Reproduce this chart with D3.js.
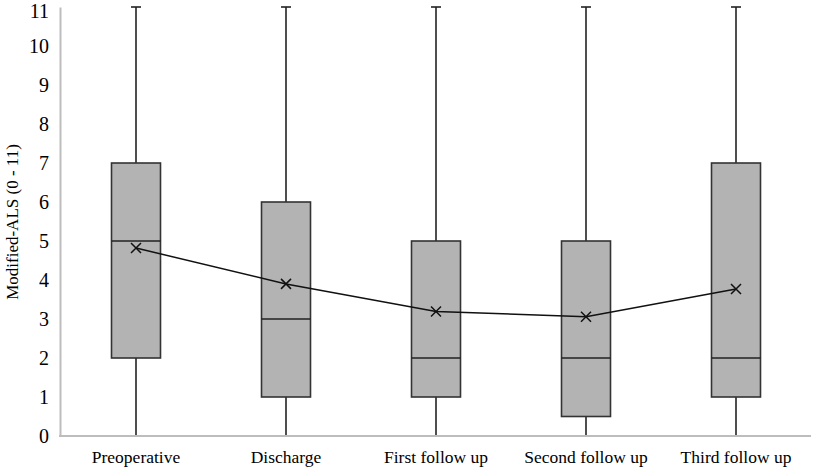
<!DOCTYPE html>
<html>
<head>
<meta charset="utf-8">
<script src="https://cdn.jsdelivr.net/npm/d3@7"></script>
<style>
  body { margin: 0; background: #fff; }
  svg text { font-family: "Liberation Serif", "Times New Roman", Times, "DejaVu Serif", serif; fill: #000; }
</style>
</head>
<body>
<svg width="813" height="470"></svg>
<script>
// data
let categories = ["Preoperative", "Discharge", "First follow up", "Second follow up", "Third follow up"];
let whiskerMin = [0, 0, 0, 0, 0];
let whiskerMax = [11, 11, 11, 11, 11];
let q1 = [2, 1, 1, 0.5, 1];
let q3 = [7, 6, 5, 5, 7];
let medians = [5, 3, 2, 2, 2];
let means = [4.82, 3.9, 3.19, 3.06, 3.77];
let yTicks = [0, 1, 2, 3, 4, 5, 6, 7, 8, 9, 10, 11];

const width = 813;
const height = 470;
const serif = '"Liberation Serif", "Times New Roman", Times, "DejaVu Serif", serif';
let svg = d3.select("svg").attr("width", width).attr("height", height);

let plotLeft = 61;
let plotRight = 811;
let plotTop = 7;
let plotBottom = 436;

let scaleX = d3.scaleBand().domain(categories).range([plotLeft, plotRight]);
let scaleY = d3.scaleLinear().domain([0, 11]).range([plotBottom, plotTop]);

let boxes = categories.map((c, i) => ({
    name: c,
    lo: whiskerMin[i],
    hi: whiskerMax[i],
    q1: q1[i],
    q3: q3[i],
    med: medians[i],
    mean: means[i],
}));

let cx = (d) => scaleX(d.name) + scaleX.bandwidth() / 2;
const boxW = 49;

// whiskers
svg.selectAll(".whisker")
    .data(boxes)
    .enter()
    .append("line")
    .attr("x1", cx)
    .attr("x2", cx)
    .attr("y1", (d) => scaleY(d.lo))
    .attr("y2", (d) => scaleY(d.hi))
    .attr("stroke", "#222")
    .attr("stroke-width", 1.6);

// caps at top
svg.selectAll(".cap")
    .data(boxes)
    .enter()
    .append("line")
    .attr("x1", (d) => cx(d) - 5)
    .attr("x2", (d) => cx(d) + 5)
    .attr("y1", (d) => scaleY(d.hi))
    .attr("y2", (d) => scaleY(d.hi))
    .attr("stroke", "#222")
    .attr("stroke-width", 1.6);

// boxes
svg.selectAll(".box")
    .data(boxes)
    .enter()
    .append("rect")
    .attr("x", (d) => cx(d) - boxW / 2)
    .attr("y", (d) => scaleY(d.q3))
    .attr("width", boxW)
    .attr("height", (d) => scaleY(d.q1) - scaleY(d.q3))
    .attr("fill", "#b3b3b3")
    .attr("stroke", "#333")
    .attr("stroke-width", 1.6);

// medians
svg.selectAll(".median")
    .data(boxes)
    .enter()
    .append("line")
    .attr("x1", (d) => cx(d) - boxW / 2)
    .attr("x2", (d) => cx(d) + boxW / 2)
    .attr("y1", (d) => scaleY(d.med))
    .attr("y2", (d) => scaleY(d.med))
    .attr("stroke", "#222")
    .attr("stroke-width", 1.6);

// y axis (no ticks, gray line)
let axisY = d3.axisLeft(scaleY).tickValues(yTicks).tickSize(0).tickPadding(11);
let gy = svg.append("g").attr("transform", `translate(${plotLeft - 1}, 0)`).call(axisY);
gy.attr("font-family", serif).attr("font-size", 20);
gy.select(".domain").attr("stroke", "#bdbdbd").attr("stroke-width", 2);
// top label sits at the very edge, nudge it in so it is not clipped
gy.selectAll("text").attr("dy", "0.34em").attr("y", (d) => (d == 11 ? 4 : 0));

// x axis
let axisX = d3.axisBottom(scaleX).tickSize(0).tickPadding(15);
let gx = svg.append("g").attr("transform", `translate(0, ${plotBottom})`).call(axisX);
gx.attr("font-family", serif).attr("font-size", 17.5);
gx.select(".domain").attr("d", `M${plotLeft - 2},0H${plotRight}`).attr("stroke", "#bdbdbd").attr("stroke-width", 2);

// mean line
let line = d3.line().x(cx).y((d) => scaleY(d.mean));
svg.append("path")
    .datum(boxes)
    .attr("d", line)
    .attr("fill", "none")
    .attr("stroke", "#111")
    .attr("stroke-width", 1.5);

// mean markers (x)
const m = 5;
svg.selectAll(".meanx")
    .data(boxes)
    .enter()
    .append("path")
    .attr("d", (d) => {
        let x = cx(d), y = scaleY(d.mean);
        return `M${x - m},${y - m}L${x + m},${y + m}M${x - m},${y + m}L${x + m},${y - m}`;
    })
    .attr("stroke", "#111")
    .attr("stroke-width", 1.5);

// y label
svg.append("text")
    .attr("transform", `translate(18, 222) rotate(-90)`)
    .attr("text-anchor", "middle")
    .attr("font-family", serif)
    .style("font-size", "17px")
    .text("Modified-ALS (0 - 11)");
</script>
</body>
</html>
